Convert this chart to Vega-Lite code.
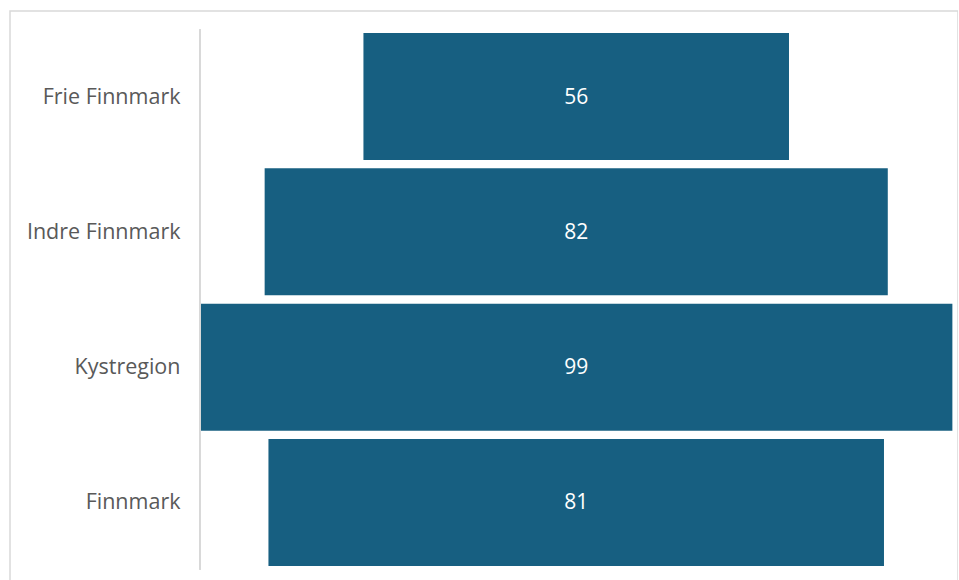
{
  "$schema": "https://vega.github.io/schema/vega-lite/v6.json",
  "width": 948,
  "height": 577,
  "padding": {"left": 10, "top": 11, "right": 0, "bottom": 0},
  "autosize": {"type": "none"},
  "background": "white",
  "config": {"view": {"stroke": "#d9d9d9", "strokeWidth": 1.5}},
  "data": {"values": [
    {"region": "Frie Finnmark", "value": 56},
    {"region": "Indre Finnmark", "value": 82},
    {"region": "Kystregion", "value": 99},
    {"region": "Finnmark", "value": 81}
  ]},
  "layer": [
    {
      "mark": {"type": "bar", "color": "#175F81"},
      "encoding": {
        "y": {"field": "region", "type": "nominal", "sort": null,
          "scale": {"paddingInner": 0.061, "paddingOuter": 0.1626},
          "axis": {"orient": "left", "offset": -190, "title": null, "domain": false, "ticks": false,
            "labelFontSize": 21.5, "labelFont": "Open Sans", "labelColor": "#595959", "labelPadding": 20, "labelOffset": 1}},
        "x": {"field": "value", "type": "quantitative", "stack": "center",
          "scale": {"domain": [-25.01, 99.74], "nice": false, "zero": false}, "axis": null}
      }
    },
    {
      "mark": {"type": "rule", "color": "#d9d9d9", "strokeWidth": 1.5},
      "encoding": {
        "x": {"datum": 0, "type": "quantitative"},
        "y": {"datum": "Frie Finnmark", "type": "nominal", "bandPosition": -0.03},
        "y2": {"datum": "Finnmark", "bandPosition": 1.03}
      }
    },
    {
      "mark": {"type": "text", "color": "white", "fontSize": 21, "font": "Open Sans", "dy": 1},
      "encoding": {
        "y": {"field": "region", "type": "nominal", "sort": null},
        "x": {"datum": 49.5, "type": "quantitative"},
        "text": {"field": "value", "type": "quantitative"}
      }
    }
  ]
}
